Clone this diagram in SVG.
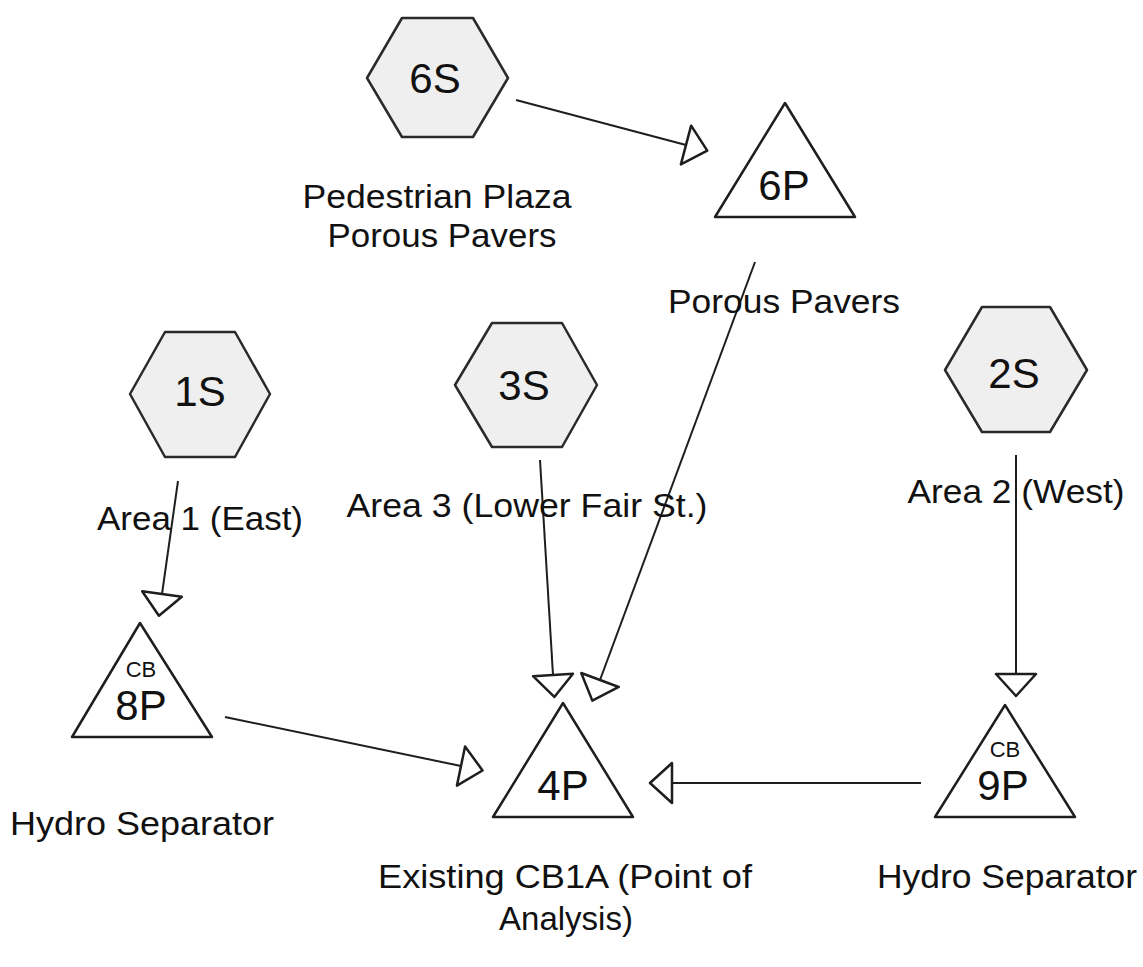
<svg xmlns="http://www.w3.org/2000/svg" width="1143" height="967" viewBox="0 0 1143 967">
  <style>
    .hex { fill: #efefef; stroke: #2a2a2a; stroke-width: 2.5; stroke-linejoin: round; }
    .tri { fill: #ffffff; stroke: #1e1e1e; stroke-width: 2.5; stroke-linejoin: round; }
    .id { font-family: "Liberation Sans", Arial, sans-serif; font-size: 42px; fill: #111; text-anchor: middle; }
    .cb { font-family: "Liberation Sans", Arial, sans-serif; font-size: 22px; fill: #111; text-anchor: middle; }
    .lbl { font-family: "Liberation Sans", Arial, sans-serif; font-size: 33px; fill: #111; text-anchor: middle; }
    .edge { fill: none; stroke: #1e1e1e; stroke-width: 2; marker-end: url(#head); }
  </style>
  <defs>
    <marker id="head" markerUnits="userSpaceOnUse" markerWidth="30" markerHeight="48" refX="1" refY="23" orient="auto" overflow="visible">
      <path d="M1,3 L23,23 L1,43 Z" fill="#ffffff" stroke="#1e1e1e" stroke-width="2.5" stroke-linejoin="round"/>
    </marker>
  </defs>
  <rect width="1143" height="967" fill="#ffffff"/>

  <!-- connectors -->
  <g id="connectors">
    <path class="edge" d="M516,100 L686,145"/>
    <path class="edge" d="M755,262 L600,680"/>
    <path class="edge" d="M540,460 L553,675"/>
    <path class="edge" d="M178,481 L162,594"/>
    <path class="edge" d="M225,717 L461,766"/>
    <path class="edge" d="M921,783 L672,783"/>
    <path class="edge" d="M1016,455 L1016,674"/>
  </g>

  <!-- subcatchments (hexagons) -->
  <g id="n6S">
    <polygon class="hex" points="367,78 402,18 473,18 508,78 473,137 402,137"/>
    <text class="id" x="435" y="93">6S</text>
    <text class="lbl" x="437" y="208" textLength="269" lengthAdjust="spacingAndGlyphs">Pedestrian Plaza</text>
    <text class="lbl" x="442" y="247" textLength="229" lengthAdjust="spacingAndGlyphs">Porous Pavers</text>
  </g>
  <g id="n1S">
    <polygon class="hex" points="130,394 165,332 235,332 270,394 235,457 165,457"/>
    <text class="id" x="200" y="406">1S</text>
    <text class="lbl" x="200" y="530" textLength="206" lengthAdjust="spacingAndGlyphs">Area 1 (East)</text>
  </g>
  <g id="n3S">
    <polygon class="hex" points="455,385 492,323 562,323 597,385 562,447 492,447"/>
    <text class="id" x="524" y="400">3S</text>
    <text class="lbl" x="527" y="517" textLength="361" lengthAdjust="spacingAndGlyphs">Area 3 (Lower Fair St.)</text>
  </g>
  <g id="n2S">
    <polygon class="hex" points="945,370 982,307 1050,307 1087,370 1050,432 982,432"/>
    <text class="id" x="1014" y="388">2S</text>
    <text class="lbl" x="1016" y="503" textLength="217" lengthAdjust="spacingAndGlyphs">Area 2 (West)</text>
  </g>

  <!-- ponds (triangles) -->
  <g id="n6P">
    <polygon class="tri" points="785,103 855,217 715,217"/>
    <text class="id" x="784" y="200">6P</text>
    <text class="lbl" x="784" y="313" textLength="232" lengthAdjust="spacingAndGlyphs">Porous Pavers</text>
  </g>
  <g id="n8P">
    <polygon class="tri" points="140,623 212,737 72,737"/>
    <text class="cb" x="141" y="677">CB</text>
    <text class="id" x="141" y="720">8P</text>
    <text class="lbl" x="142" y="835" textLength="264" lengthAdjust="spacingAndGlyphs">Hydro Separator</text>
  </g>
  <g id="n4P">
    <polygon class="tri" points="563,703 633,817 493,817"/>
    <text class="id" x="563" y="800">4P</text>
    <text class="lbl" x="565" y="888" textLength="374" lengthAdjust="spacingAndGlyphs">Existing CB1A (Point of</text>
    <text class="lbl" x="566" y="930">Analysis)</text>
  </g>
  <g id="n9P">
    <polygon class="tri" points="1005,705 1075,817 935,817"/>
    <text class="cb" x="1005" y="757">CB</text>
    <text class="id" x="1003" y="800">9P</text>
    <text class="lbl" x="1007" y="888" textLength="260" lengthAdjust="spacingAndGlyphs">Hydro Separator</text>
  </g>
</svg>
